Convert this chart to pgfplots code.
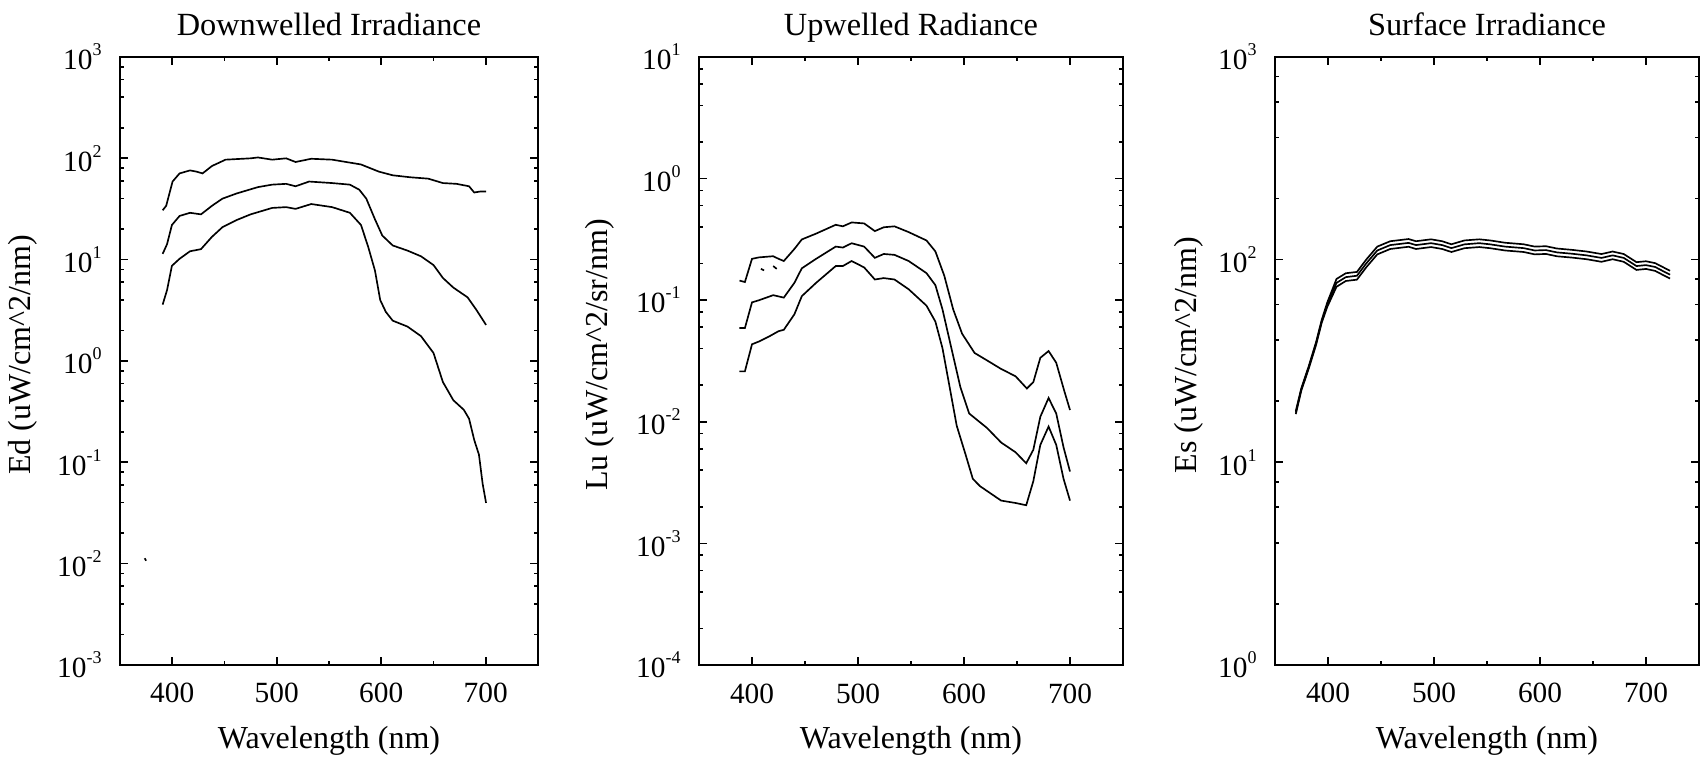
\documentclass[border=0pt]{standalone}
\usepackage{fontspec}
\setmainfont{Liberation Serif}
\usepackage{pgfplots}
\pgfplotsset{compat=1.18}

% 10 with a small raised exponent, as in the IDL plots
\newcommand{\ee}[1]{10\raisebox{4.2pt}{\fontsize{5.4}{6}\selectfont #1}}

\pgfplotsset{
  irr/.style={
    scale only axis, height=182.4pt, anchor=south west,
    xmin=350, xmax=750,
    xtick={400,500,600,700}, minor xtick={450,550,650},
    tick pos=both,
    major tick length=2.3pt, minor tick length=1.2pt,
    axis line style={line width=0.6pt},
    every tick/.style={black, line width=0.5pt},
    /pgf/number format/assume math mode=true,
    tick label style={font=\fontsize{8.8}{10}\selectfont},
    xticklabel style={anchor=base, yshift=-11.4pt},
    yticklabel style={xshift=-2pt},
    label style={font=\fontsize{9.6}{11}\selectfont},
    every axis title shift=0pt,
    title style={font=\fontsize{9.7}{11}\selectfont, at={(axis description cs:0.5,1.036)}, anchor=base},
    xlabel style={at={(axis description cs:0.5,-0.138)}, anchor=base},
    xlabel={Wavelength (nm)},
    every axis plot post/.append style={black, line width=0.5pt, mark=none},
  }
}

\begin{document}
\begin{tikzpicture}
\useasboundingbox (0,0) rectangle (510.6pt,227.1pt);

% ---------------- Downwelled Irradiance
\begin{semilogyaxis}[irr, at={(36pt,27.6pt)}, width=125.4pt,
  ymin=1e-3, ymax=1e3,
  ytick={1e-3,1e-2,1e-1,1,10,100,1000},
  yticklabels={\ee{-3},\ee{-2},\ee{-1},\ee{0},\ee{1},\ee{2},\ee{3}},
  minor ytick={2e-3,4e-3,6e-3,8e-3,2e-2,4e-2,6e-2,8e-2,0.2,0.4,0.6,0.8,2,4,6,8,20,40,60,80,200,400,600,800},
  title={Downwelled Irradiance},
  ylabel={Ed (uW/cm\textasciicircum 2/nm)},
  ylabel style={at={(axis description cs:-0.232,0.51)}, anchor=center},
]
\addplot coordinates {(390.8,30.7)(394.2,34)(400.3,59)(407,71)(417,76)(423,74)(429,71)(438,84)(451,97)(475,100)(482,102)(495.6,97)(509,100)(518,92)(533,99)(553,97)(580.6,87)(597.6,74)(611,68)(628,65)(645,63)(659,57)(672,56)(684,53)(689,46)(694.5,47)(700.3,47)};
\addplot coordinates {(390.8,11.4)(395,14.2)(399.7,22)(407,27)(417,29)(427.5,28)(438,34)(448,40)(461.6,45)(482,52)(495.6,55)(509,56)(518,53)(531,59)(553,57)(570,55)(579,49)(585.7,40)(594,25)(601,17.3)(611,13.8)(625,12.3)(638,10.8)(650,8.85)(659,6.6)(669,5.3)(682.6,4.25)(691,3.2)(700.3,2.27)};
\addplot coordinates {(390.8,3.6)(395,5.0)(399.7,8.7)(407,10.2)(417,12.1)(427.5,12.7)(438,16.8)(448,20.9)(461.6,24.6)(475,28)(495.6,32.4)(509,33)(518,31.7)(533,35.4)(553,33)(570,29)(580.6,22)(587.4,13.5)(594,7.8)(599,4.0)(604.4,3.05)(611,2.5)(625,2.19)(638,1.76)(650,1.2)(659,0.62)(669,0.41)(679,0.33)(684,0.27)(689,0.166)(693.5,0.119)(697,0.0617)(700.3,0.0398)};
\addplot coordinates {(373.6,0.0113)(375,0.0107)};
\end{semilogyaxis}

% ---------------- Upwelled Radiance
\begin{semilogyaxis}[irr, at={(209.7pt,27.6pt)}, width=127.2pt,
  ymin=1e-4, ymax=10,
  ytick={1e-4,1e-3,1e-2,1e-1,1,10},
  yticklabels={\ee{-4},\ee{-3},\ee{-2},\ee{-1},\ee{0},\ee{1}},
  minor ytick={2e-4,4e-4,6e-4,8e-4,2e-3,4e-3,6e-3,8e-3,2e-2,4e-2,6e-2,8e-2,0.2,0.4,0.6,0.8,2,4,6,8},
  title={Upwelled Radiance},
  ylabel={Lu (uW/cm\textasciicircum 2/sr/nm)},
  ylabel style={at={(axis description cs:-0.235,0.51)}, anchor=center},
]
\addplot coordinates {(388.2,0.145)(393.3,0.141)(400,0.219)(406.7,0.225)(420,0.23)(425,0.219)(430,0.21)(440,0.264)(447,0.316)(460.5,0.353)(479,0.417)(485.7,0.405)(494,0.436)(505.8,0.428)(515.9,0.37)(524.3,0.398)(534.4,0.405)(547.8,0.363)(564.6,0.31)(573,0.252)(581.4,0.159)(589.8,0.084)(598.2,0.053)(610,0.0368)(621.7,0.032)(635,0.0272)(648.6,0.0237)(659.3,0.0188)(665.4,0.0212)(672,0.0336)(679.8,0.0382)(687,0.0306)(694.8,0.0177)(700,0.0125)};
\addplot coordinates {(388.2,0.059)(393.3,0.059)(400,0.096)(406.7,0.1)(420,0.11)(430,0.105)(440,0.139)(447,0.183)(460.5,0.219)(479,0.276)(485.7,0.271)(494,0.294)(505.8,0.276)(515.9,0.223)(524.3,0.24)(534.4,0.236)(547.8,0.21)(564.6,0.167)(573,0.133)(579.7,0.084)(588.1,0.0403)(596.5,0.0194)(604.9,0.0117)(613.3,0.0102)(621.7,0.0089)(635,0.00676)(648.6,0.00562)(658.7,0.00456)(665.4,0.00589)(672,0.011)(679.8,0.0157)(687,0.0117)(693.9,0.00617)(700,0.0039)};
\addplot coordinates {(388.2,0.026)(393.3,0.026)(400,0.0434)(406.7,0.0458)(416.8,0.0507)(425,0.0556)(430,0.0571)(440,0.0766)(447,0.108)(460.5,0.139)(479,0.191)(485.7,0.191)(494,0.21)(505.8,0.186)(515.9,0.148)(524.3,0.152)(534.4,0.148)(547.8,0.123)(564.6,0.0902)(573,0.0667)(579.7,0.0403)(586.4,0.0194)(593.1,0.0093)(601.5,0.00537)(608.3,0.0034)(615,0.00296)(625,0.00258)(635,0.00225)(648.6,0.00215)(658.7,0.00206)(665.4,0.00325)(672,0.00646)(679.8,0.00914)(687,0.00646)(693.9,0.0034)(700,0.00225)};
\addplot coordinates {(408.4,0.181)(411.4,0.176)};
\addplot coordinates {(420,0.191)(423.3,0.181)};
\end{semilogyaxis}

% ---------------- Surface Irradiance
\begin{semilogyaxis}[irr, at={(382.5pt,27.6pt)}, width=127.2pt,
  ymin=1, ymax=1e3,
  ytick={1,10,100,1000},
  yticklabels={\ee{0},\ee{1},\ee{2},\ee{3}},
  minor ytick={2,4,6,8,20,40,60,80,200,400,600,800},
  title={Surface Irradiance},
  ylabel={Es (uW/cm\textasciicircum 2/nm)},
  ylabel style={at={(axis description cs:-0.204,0.51)}, anchor=center},
]
\addplot coordinates {(369.6,17.9)(374.8,23.2)(381.8,29.8)(388.8,39.3)(394,50.3)(399.3,61.5)(408,80.3)(416.8,85.7)(427.3,87.0)(436,100)(446.5,116)(458.7,123.3)(476,126.4)(483,123.3)(497.2,126)(507.7,123.3)(516.4,119.1)(528.7,124.4)(542.7,126)(553,124.4)(567,121.2)(584.6,119.1)(595,116)(605.6,116.5)(616,113.5)(630,111.8)(644,109.7)(658,106.6)(668.5,109.7)(679,106.6)(691,97.2)(700,98.2)(708.7,96.1)(715.7,92)(722.7,88.1)};
\addplot coordinates {(369.6,17.6)(374.8,22.9)(381.8,29.4)(388.8,38.7)(394,49.5)(399.3,60)(408,76.8)(416.8,82)(427.3,83.3)(436,95.7)(446.5,111)(458.7,118)(476,121)(483,118)(497.2,120.6)(507.7,118)(516.4,114)(528.7,119)(542.7,120.6)(553,119)(567,116)(584.6,114)(595,111)(605.6,111.5)(616,108.6)(630,107)(644,105)(658,102)(668.5,105)(679,102)(691,93)(700,94)(708.7,92)(715.7,88)(722.7,84.3)};
\addplot coordinates {(369.6,17.3)(374.8,22.6)(381.8,29.0)(388.8,38.1)(394,48.8)(399.3,58.5)(408,73.5)(416.8,78.5)(427.3,79.7)(436,91.6)(446.5,106.2)(458.7,112.9)(476,115.8)(483,112.9)(497.2,115.4)(507.7,112.9)(516.4,109.1)(528.7,113.9)(542.7,115.4)(553,113.9)(567,111)(584.6,109.1)(595,106.2)(605.6,106.7)(616,103.9)(630,102.4)(644,100.5)(658,97.6)(668.5,100.5)(679,97.6)(691,89)(700,90)(708.7,88)(715.7,84.2)(722.7,80.7)};
\end{semilogyaxis}
\end{tikzpicture}
\end{document}
